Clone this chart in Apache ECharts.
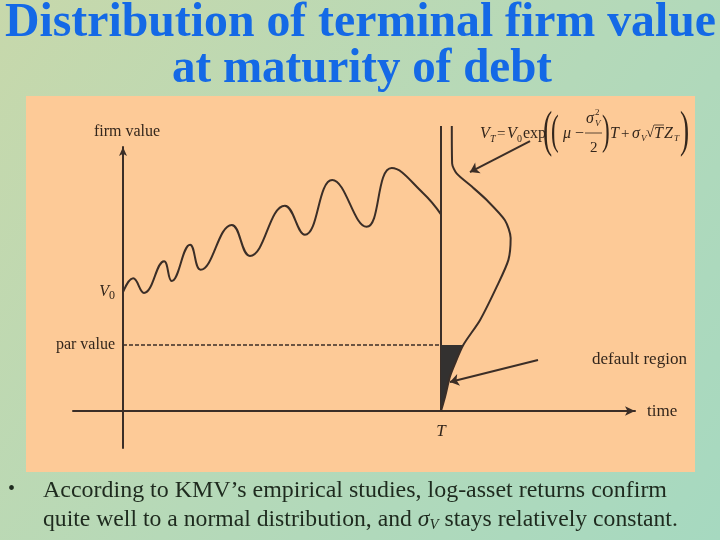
<!DOCTYPE html>
<html><head><meta charset="utf-8">
<script src="https://cdn.jsdelivr.net/npm/echarts@6/dist/echarts.min.js"></script>
<style>html,body{margin:0;padding:0;}#c{width:720px;height:540px;}</style>
</head><body><div id="c"></div>
<script>
// ---- data ----
const titleLines = ['Distribution of terminal firm value', 'at maturity of debt'];
const bulletLine1 = 'According to KMV\u2019s empirical studies, log-asset returns confirm';
const bulletLine2a = 'quite well to a normal distribution, and ';
const bulletLine2b = ' stays relatively constant.';
const T = 1;                 // maturity
const parValue = 1.0;        // par value of debt
const V0 = 1.8;              // initial firm value
const yTickValues = [parValue, V0];
const xTickValues = [T];
// sample path of firm value
const pathTimes  = [0, 0.032, 0.066, 0.129, 0.153, 0.211, 0.244, 0.342, 0.399, 0.509, 0.572, 0.658, 0.766, 0.845, 0.944, 1.0];
const pathValues = [1.80, 2.01, 1.79, 2.27, 1.97, 2.52, 2.14, 2.82, 2.35, 3.11, 2.67, 3.50, 2.79, 3.68, 3.30, 2.98];
// terminal distribution (density drawn sideways from T)
const densityLevels = [4.32, 3.75, 3.60, 3.40, 3.20, 2.89, 2.62, 2.29, 1.88, 1.38, 1.00, 0.72, 0.52, 0.22, 0.0];
const densityWidths = [0.034, 0.035, 0.049, 0.097, 0.143, 0.201, 0.219, 0.212, 0.175, 0.123, 0.070, 0.044, 0.028, 0.013, 0.0];
// annotation arrows [from, to]
const formulaArrow = [[1.280, 4.09], [1.091, 3.62]];
const defaultArrow = [[1.305, 0.773], [1.028, 0.44]];

// ---- styling ----
const INK = '#3b2e27';
const TXT = '#33261c';
const SERIF = '"Liberation Serif", "Times New Roman", serif';

function fit(text, font, target) {
  const c = document.createElement('canvas').getContext('2d');
  c.font = font;
  return target / c.measureText(text).width;
}
function tx(x, y, text, size, o) {
  o = o || {};
  const font = (o.italic ? 'italic ' : '') + (o.bold ? 'bold ' : '') + size + 'px ' + SERIF;
  return {
    type: 'text', x: x, y: y, z: 5, scaleX: o.sx || 1, scaleY: o.sy || 1,
    style: { text: text, font: font, fill: o.fill || TXT,
      align: o.align || 'left', textAlign: o.align || 'left',
      verticalAlign: 'middle', textVerticalAlign: 'middle' }
  };
}

const titleFont = 'bold 49px ' + SERIF;
const bodyFont = '24px ' + SERIF;
const graphics = [
  { type: 'rect', z: -1, shape: { x: 26, y: 96, width: 669, height: 376 }, style: { fill: '#fdca97' } },
  tx(360.5, 23, titleLines[0], 49, { bold: true, fill: '#1469e6', align: 'center', sx: fit(titleLines[0], titleFont, 711) }),
  tx(362, 69, titleLines[1], 49, { bold: true, fill: '#1469e6', align: 'center', sx: fit(titleLines[1], titleFont, 380) }),
  tx(8, 490, '\u2022', 20, { fill: '#1e2a1e' }),
  tx(43, 490.5, bulletLine1, 24, { fill: '#1e2a1e', sx: fit(bulletLine1, bodyFont, 624) }),
  {
    type: 'text', x: 43, y: 519.5, z: 5,
    scaleX: fit(bulletLine2a + '\u03c3V' + bulletLine2b, bodyFont, 644),
    style: {
      text: '{n|' + bulletLine2a + '}{i|\u03c3}{s|V}{n|' + bulletLine2b + '}',
      align: 'left', verticalAlign: 'middle', textAlign: 'left', textVerticalAlign: 'middle',
      rich: {
        n: { fontFamily: SERIF, fontSize: 24, fill: '#1e2a1e', color: '#1e2a1e' },
        i: { fontFamily: SERIF, fontSize: 24, fontStyle: 'italic', fill: '#1e2a1e', color: '#1e2a1e' },
        s: { fontFamily: SERIF, fontSize: 15, fontStyle: 'italic', fill: '#1e2a1e', color: '#1e2a1e', padding: [12, 0, 0, 0] }
      }
    }
  },
  tx(592, 360, 'default region', 17),
  // formula
  tx(480, 134, 'V', 16, { italic: true }),
  tx(490, 139, 'T', 10, { italic: true }),
  tx(497, 134, '=', 15),
  tx(507, 134, 'V', 16, { italic: true }),
  tx(517, 139, '0', 10),
  tx(523, 134, 'exp', 16),
  tx(543, 133, '(', 50, { sx: 0.55 }),
  tx(551, 133, '(', 42, { sx: 0.55 }),
  tx(563, 134, '\u03bc', 16, { italic: true }),
  tx(575, 134, '\u2212', 16),
  tx(586, 119, '\u03c3', 16, { italic: true }),
  tx(595, 124, 'V', 9, { italic: true }),
  tx(595, 113, '2', 9),
  { type: 'line', z: 5, shape: { x1: 585, y1: 133, x2: 602, y2: 133 }, style: { stroke: TXT, lineWidth: 0.8 } },
  tx(590, 148, '2', 15),
  tx(602, 133, ')', 42, { sx: 0.55 }),
  tx(610, 134, 'T', 16, { italic: true }),
  tx(621, 134, '+', 15),
  tx(632, 134, '\u03c3', 16, { italic: true }),
  tx(641, 139, 'V', 9, { italic: true }),
  tx(646, 133, '\u221a', 15),
  { type: 'line', z: 5, shape: { x1: 654, y1: 125, x2: 664, y2: 125 }, style: { stroke: TXT, lineWidth: 0.8 } },
  tx(654, 134, 'T', 16, { italic: true }),
  tx(664, 134, 'Z', 16, { italic: true }),
  tx(674, 139, 'T', 9, { italic: true }),
  tx(680, 133, ')', 50, { sx: 0.55 })
];

const densityData = densityLevels.map((l, i) => [T + densityWidths[i], l]);

const option = {
  animation: false,
  backgroundColor: new echarts.graphic.LinearGradient(0, 0, 1, 1, [
    { offset: 0, color: '#c7d8ab' },
    { offset: 0.5, color: '#b6d9b8' },
    { offset: 1, color: '#a6d9c0' }
  ]),
  graphic: { elements: graphics },
  grid: { left: 73, right: 85, top: 147, bottom: 92 },
  xAxis: {
    type: 'value', min: -0.15723, max: 1.61006,
    splitLine: { show: false }, axisTick: { show: false },
    axisLine: { onZero: true, symbol: ['none', 'arrow'], symbolSize: [7, 10], lineStyle: { color: INK, width: 2 } },
    axisLabel: { customValues: xTickValues, formatter: () => 'T', margin: -25, fontFamily: SERIF, fontStyle: 'italic', fontSize: 17, color: TXT },
    name: 'time', nameLocation: 'end', nameGap: 12,
    nameTextStyle: { fontFamily: SERIF, fontSize: 17, color: TXT }
  },
  yAxis: {
    type: 'value', min: -0.56, max: 4.0,
    splitLine: { show: false }, axisTick: { show: false },
    axisLine: { onZero: true, symbol: ['none', 'arrow'], symbolSize: [6, 9], lineStyle: { color: INK, width: 2 } },
    axisLabel: {
      customValues: yTickValues, margin: -42, color: TXT, fontFamily: SERIF, fontSize: 16,
      formatter: v => (Math.abs(v - parValue) < 1e-9 ? 'par value' : '{i|V}{s|0}'),
      rich: {
        i: { fontFamily: SERIF, fontSize: 16, fontStyle: 'italic', color: TXT },
        s: { fontFamily: SERIF, fontSize: 12, color: TXT, padding: [8, 0, 0, 0] }
      }
    },
    name: 'firm value', nameLocation: 'end', nameGap: 7,
    nameTextStyle: { fontFamily: SERIF, fontSize: 16, color: TXT, padding: [0, 0, 0, 8] }
  },
  series: [
    { type: 'line', name: 'path', data: pathTimes.map((t, i) => [t, pathValues[i]]), smooth: 0.45,
      showSymbol: false, lineStyle: { color: INK, width: 2 }, z: 3 },
    { type: 'line', name: 'maturity', data: [[T, 0], [T, densityLevels[0]]], clip: false,
      showSymbol: false, lineStyle: { color: INK, width: 2 }, z: 3 },
    { type: 'line', name: 'par', data: [[0, parValue], [T, parValue]],
      showSymbol: false, lineStyle: { color: INK, width: 1.5, type: [4, 2] }, z: 3 },
    { type: 'line', name: 'density', data: densityData, smooth: 0.25, clip: false,
      showSymbol: false, lineStyle: { color: INK, width: 2 }, z: 4 },
    { type: 'custom', name: 'default', data: [[T, parValue]], z: 4,
      renderItem: function (params, api) {
        const pts = [api.coord([T, 0]), api.coord([T, parValue])];
        densityLevels.forEach((l, i) => { if (l <= parValue + 1e-9) pts.push(api.coord([T + densityWidths[i], l])); });
        return { type: 'polygon', shape: { points: pts }, style: { fill: '#333130' } };
      } },
    { type: 'lines', coordinateSystem: 'cartesian2d', clip: false, z: 4,
      symbol: ['none', 'arrow'], symbolSize: 9,
      lineStyle: { color: INK, width: 2, opacity: 1 },
      data: [{ coords: formulaArrow }, { coords: defaultArrow }] }
  ]
};
const chart = echarts.init(document.getElementById('c'), null, { renderer: 'canvas' });
chart.setOption(option);
</script></body></html>
